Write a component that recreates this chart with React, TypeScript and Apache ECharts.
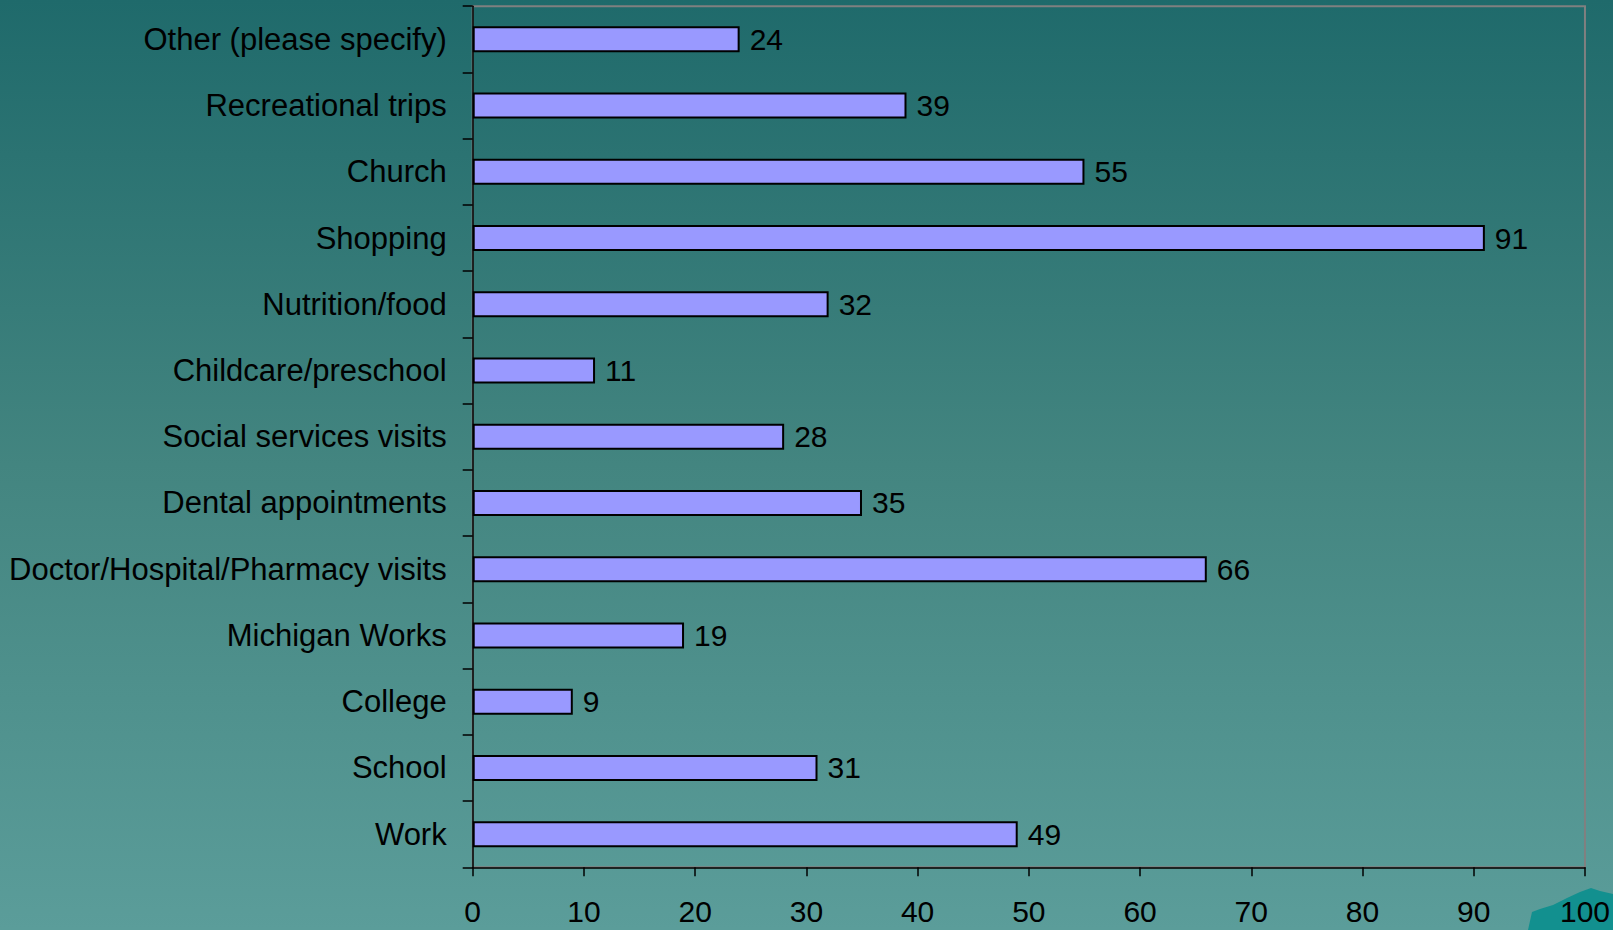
import React, { useEffect, useRef } from "react";
import * as echarts from "echarts";

const categories = [
  "Other (please specify)",
  "Recreational trips",
  "Church",
  "Shopping",
  "Nutrition/food",
  "Childcare/preschool",
  "Social services visits",
  "Dental appointments",
  "Doctor/Hospital/Pharmacy visits",
  "Michigan Works",
  "College",
  "School",
  "Work",
];
const values = [24, 39, 55, 91, 32, 11, 28, 35, 66, 19, 9, 31, 49];
const xMin = 0;
const xMax = 100;
const xStep = 10;

const FONT = "'Liberation Sans', Arial, Helvetica, sans-serif";

export default function App() {
  const ref = useRef<HTMLDivElement>(null);
  useEffect(() => {
    if (!ref.current) return;
    const chart = echarts.init(ref.current, undefined, { renderer: "svg" });
    chart.setOption({
      animation: false,
      backgroundColor: new echarts.graphic.LinearGradient(0, 0, 0, 1, [
        { offset: 0, color: "#1F6A6B" },
        { offset: 0.5, color: "#438580" },
        { offset: 1, color: "#5B9D9A" },
      ]),
      textStyle: { fontFamily: FONT },
      grid: {
        left: 472.7,
        top: 6.2,
        right: 28,
        bottom: 62.7,
        show: true,
        borderColor: "#808080",
        borderWidth: 2,
        backgroundColor: "transparent",
      },
      xAxis: {
        type: "value",
        min: xMin,
        max: xMax,
        interval: xStep,
        splitLine: { show: false },
        axisLine: { show: true, lineStyle: { color: "#000", width: 1.5 } },
        axisTick: { show: true, length: 9, lineStyle: { color: "#000", width: 1.5 } },
        axisLabel: {
          color: "#000",
          fontSize: 30,
          fontFamily: FONT,
          margin: 29,
        },
      },
      yAxis: {
        type: "category",
        data: categories,
        inverse: true,
        axisLine: { show: true, lineStyle: { color: "#000", width: 1.5 } },
        axisTick: {
          show: true,
          length: 10,
          interval: 0,
          lineStyle: { color: "#000", width: 1.5 },
        },
        axisLabel: {
          color: "#000",
          fontSize: 31,
          fontFamily: FONT,
          margin: 26,
          interval: 0,
        },
      },
      graphic: [
        {
          type: "polygon",
          z: -10,
          silent: true,
          shape: {
            points: [
              [1528, 930],
              [1532, 912],
              [1540, 909],
              [1553, 905],
              [1567, 898],
              [1580, 892],
              [1591, 888],
              [1600, 891],
              [1613, 894],
              [1613, 930],
            ],
          },
          style: { fill: "#12908F" },
        },
      ],
      series: [
        {
          type: "bar",
          data: values,
          barWidth: 26,
          itemStyle: { color: "#9999FF", borderColor: "#000", borderWidth: 2 },
          label: {
            show: true,
            position: "right",
            distance: 10,
            color: "#000",
            fontSize: 30,
            fontFamily: FONT,
          },
        },
      ],
    });
    return () => chart.dispose();
  }, []);
  return (
    <div
      ref={ref}
      style={{ position: "fixed", left: 0, top: 0, width: 1613, height: 930 }}
    />
  );
}
